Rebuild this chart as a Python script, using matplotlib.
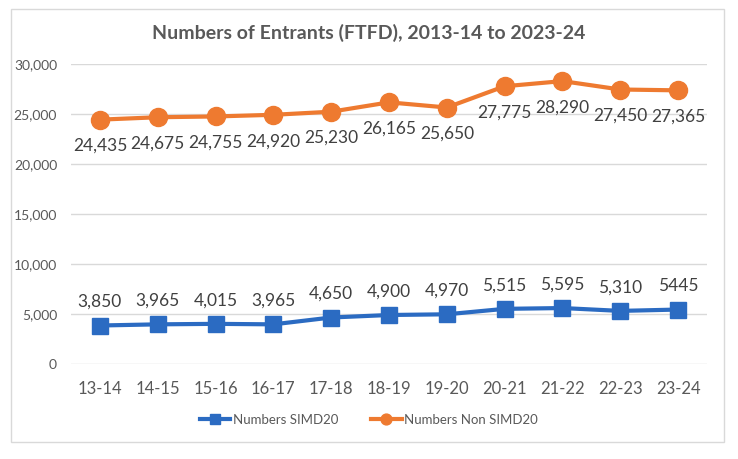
import matplotlib.pyplot as plt
import matplotlib.patches as mpatches

plt.rcParams['font.family'] = ['Lato', 'DejaVu Sans']

years = ["13-14", "14-15", "15-16", "16-17", "17-18", "18-19", "19-20",
         "20-21", "21-22", "22-23", "23-24"]
simd20 = [3850, 3965, 4015, 3965, 4650, 4900, 4970, 5515, 5595, 5310, 5445]
non_simd20 = [24435, 24675, 24755, 24920, 25230, 26165, 25650, 27775, 28290, 27450, 27365]
simd20_labels = ["3,850", "3,965", "4,015", "3,965", "4,650", "4,900", "4,970",
                 "5,515", "5,595", "5,310", "5445"]
non_simd20_labels = ["24,435", "24,675", "24,755", "24,920", "25,230", "26,165",
                     "25,650", "27,775", "28,290", "27,450", "27,365"]

blue = "#2B6BC2"
orange = "#EE7A30"
grey = "#595959"

fig = plt.figure(figsize=(7.38, 4.59), dpi=100)
# outer chart border
fig.patches.append(mpatches.Rectangle((11 / 738, 1 - 442 / 459), 713 / 738, 433 / 459,
                                      transform=fig.transFigure, fill=False,
                                      edgecolor="#D9D9D9", linewidth=1))

ax = fig.add_axes([71 / 738, 95 / 459, 636 / 738, 300 / 459])
x = list(range(len(years)))

ax.plot(x, simd20, color=blue, linewidth=3, marker="s", markersize=11.5,
        label="Numbers SIMD20", zorder=3)
ax.plot(x, non_simd20, color=orange, linewidth=3, marker="o", markersize=13,
        label="Numbers Non SIMD20", zorder=3)

for i in x:
    ax.annotate(simd20_labels[i], (i, simd20[i]), textcoords="offset points",
                xytext=(0, 17), ha="center", va="center", fontsize=12.5, color="#404040")
    ax.annotate(non_simd20_labels[i], (i, non_simd20[i]), textcoords="offset points",
                xytext=(0, -19), ha="center", va="center", fontsize=12.5, color="#404040")

ax.set_xlim(-0.5, len(years) - 0.5)
ax.set_ylim(0, 30000)
ax.set_yticks(range(0, 30001, 5000))
ax.set_yticklabels([f"{v:,}" for v in range(0, 30001, 5000)])
ax.set_xticks(x)
ax.set_xticklabels(years)
ax.tick_params(axis="x", length=0, labelsize=12, colors=grey, pad=12)
ax.tick_params(axis="y", length=0, labelsize=10, colors=grey, pad=10)
ax.grid(axis="y", color="#D9D9D9", linewidth=1)
ax.set_axisbelow(True)
for s in ax.spines.values():
    s.set_visible(False)

fig.text(0.5, 1 - 33 / 459, "Numbers of Entrants (FTFD), 2013-14 to 2023-24",
         ha="center", va="center", fontsize=14, fontweight="bold", color=grey)

fig.legend(loc="center", bbox_to_anchor=(0.5, 1 - 420 / 459), ncol=2, frameon=False,
           fontsize=9.5, handlelength=2.3, handletextpad=0.2, columnspacing=2.5,
           labelcolor=grey, markerscale=0.6)

fig.savefig("out.png", dpi=100)
